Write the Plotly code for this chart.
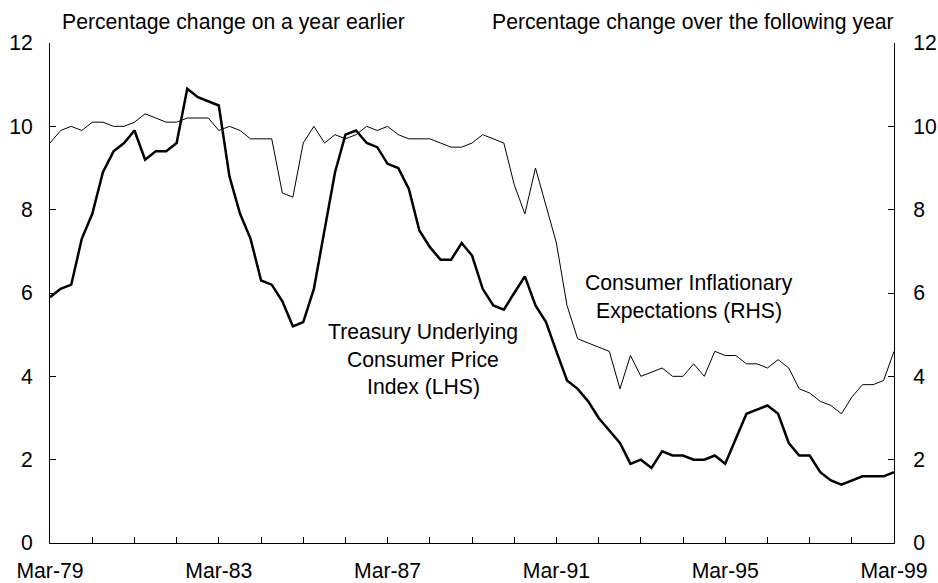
import pandas as pd
import plotly.graph_objects as go

# Quarterly observations, Mar-79 .. Mar-99
quarters = pd.date_range("1979-03-01", periods=81, freq="QS-MAR")

treasury_cpi = [
    5.9, 6.1, 6.2, 7.3, 7.9, 8.9, 9.4, 9.6, 9.9, 9.2,
    9.4, 9.4, 9.6, 10.9, 10.7, 10.6, 10.5, 8.8, 7.9, 7.3,
    6.3, 6.2, 5.8, 5.2, 5.3, 6.1, 7.5, 8.9, 9.8, 9.9,
    9.6, 9.5, 9.1, 9.0, 8.5, 7.5, 7.1, 6.8, 6.8, 7.2,
    6.9, 6.1, 5.7, 5.6, 6.0, 6.4, 5.7, 5.3, 4.6, 3.9,
    3.7, 3.4, 3.0, 2.7, 2.4, 1.9, 2.0, 1.8, 2.2, 2.1,
    2.1, 2.0, 2.0, 2.1, 1.9, 2.5, 3.1, 3.2, 3.3, 3.1,
    2.4, 2.1, 2.1, 1.7, 1.5, 1.4, 1.5, 1.6, 1.6, 1.6,
    1.7,
]

inflation_expectations = [
    9.6, 9.9, 10.0, 9.9, 10.1, 10.1, 10.0, 10.0, 10.1, 10.3,
    10.2, 10.1, 10.1, 10.2, 10.2, 10.2, 9.9, 10.0, 9.9, 9.7,
    9.7, 9.7, 8.4, 8.3, 9.6, 10.0, 9.6, 9.8, 9.7, 9.8,
    10.0, 9.9, 10.0, 9.8, 9.7, 9.7, 9.7, 9.6, 9.5, 9.5,
    9.6, 9.8, 9.7, 9.6, 8.6, 7.9, 9.0, 8.1, 7.2, 5.7,
    4.9, 4.8, 4.7, 4.6, 3.7, 4.5, 4.0, 4.1, 4.2, 4.0,
    4.0, 4.3, 4.0, 4.6, 4.5, 4.5, 4.3, 4.3, 4.2, 4.4,
    4.2, 3.7, 3.6, 3.4, 3.3, 3.1, 3.5, 3.8, 3.8, 3.9,
    4.6,
]

x_tick_dates = pd.date_range("1979-03-01", "1999-03-01", freq="12MS")
x_tick_labels = [d.strftime("%b-%y") if i % 4 == 0 else "" for i, d in enumerate(x_tick_dates)]
y_tick_vals = [0, 2, 4, 6, 8, 10, 12]

left_title = "Percentage change on a year earlier"
right_title = "Percentage change over the following year"
cpi_label_lines = ["Treasury Underlying", "Consumer Price", "Index (LHS)"]
exp_label_lines = ["Consumer Inflationary", "Expectations (RHS)"]

FONT = "Arial, Liberation Sans, sans-serif"
FS = 21.2
W, H = 938, 583
L, R, T, B = 50, 44, 43, 40


def px_x(px):
    return (px - L) / (W - L - R)


def px_y(py):
    return (H - B - py) / (H - T - B)


fig = go.Figure()
fig.add_trace(go.Scatter(
    x=quarters, y=treasury_cpi, mode="lines",
    line=dict(color="black", width=2.5), name="Treasury Underlying CPI (LHS)",
    yaxis="y",
))
fig.add_trace(go.Scatter(
    x=quarters, y=inflation_expectations, mode="lines",
    line=dict(color="black", width=1), name="Consumer Inflationary Expectations (RHS)",
    yaxis="y2",
))

axis_common = dict(
    range=[0, 12], tickvals=y_tick_vals, ticks="inside", ticklen=6,
    tickcolor="black", showline=True, linecolor="black", linewidth=1,
    showgrid=False, zeroline=False, tickfont=dict(family=FONT, size=FS, color="black"),
    fixedrange=True, automargin=False,
)

fig.update_layout(
    width=W, height=H,
    margin=dict(l=L, r=R, t=T, b=B, pad=0),
    paper_bgcolor="white", plot_bgcolor="white",
    showlegend=False,
    font=dict(family=FONT, size=FS, color="black"),
    xaxis=dict(
        type="date",
        range=[quarters[0], quarters[-1]],
        tickvals=list(x_tick_dates), ticktext=x_tick_labels,
        ticks="inside", ticklen=6, tickcolor="black",
        showline=True, linecolor="black", linewidth=1,
        showgrid=False, zeroline=False, automargin=False,
        tickfont=dict(family=FONT, size=FS, color="black"),
        ticklabelstandoff=9, fixedrange=True,
    ),
    yaxis=dict(side="left", ticklabelstandoff=12, **axis_common),
    yaxis2=dict(side="right", overlaying="y", ticklabelstandoff=14, **axis_common),
)

annotations = [
    dict(text=left_title, x=px_x(60), y=px_y(22), xanchor="left", yanchor="middle"),
    dict(text=right_title, x=px_x(896), y=px_y(22), xanchor="right", yanchor="middle"),
]
for i, line in enumerate(cpi_label_lines):
    annotations.append(dict(text=line, x=px_x(423), y=px_y(332 + 27.5 * i),
                            xanchor="center", yanchor="middle"))
for i, line in enumerate(exp_label_lines):
    annotations.append(dict(text=line, x=px_x(689), y=px_y(283 + 28 * i),
                            xanchor="center", yanchor="middle"))
for a in annotations:
    a.update(xref="paper", yref="paper", showarrow=False,
             font=dict(family=FONT, size=FS, color="black"))
fig.update_layout(annotations=annotations)

fig.write_html(
    "out.html",
    config={"displayModeBar": False},
    post_script="document.body.style.margin='0';document.body.style.overflow='hidden';",
)
